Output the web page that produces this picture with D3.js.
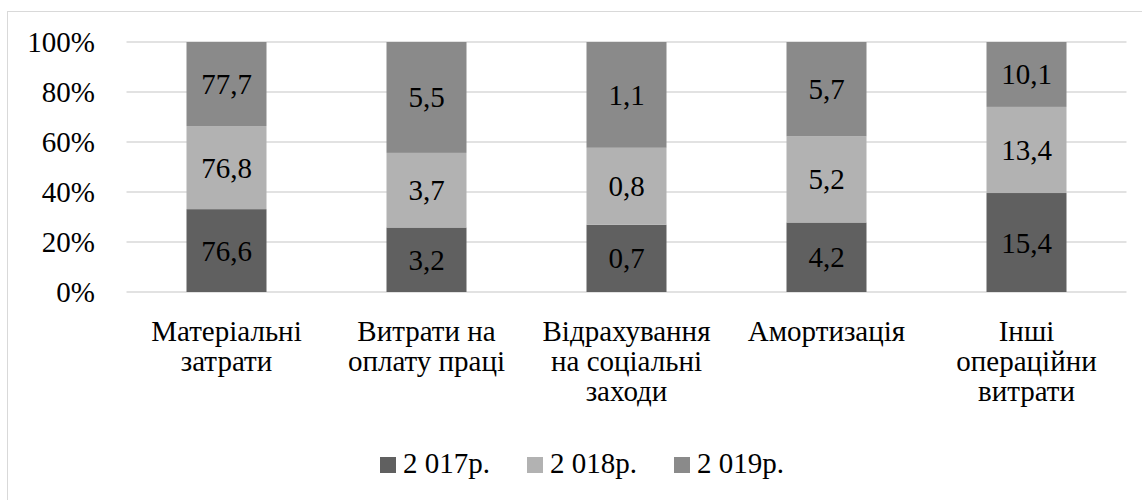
<!DOCTYPE html>
<html><head><meta charset="utf-8">
<script src="https://cdn.jsdelivr.net/npm/d3@7"></script>
<style>
html,body{margin:0;padding:0;background:#fff;}
svg text, svg tspan{font-family:"Liberation Serif" !important;}
</style>
</head>
<body>
<svg id="c" width="1142" height="500"></svg>
<script>
const categories = ["Матеріальні\nзатрати", "Витрати на\nоплату праці", "Відрахування\nна соціальні\nзаходи", "Амортизація", "Інші\nопераційни\nвитрати"];
const seriesNames = ["2 017р.", "2 018р.", "2 019р."];
const s2017 = [76.6, 3.2, 0.7, 4.2, 15.4];
const s2018 = [76.8, 3.7, 0.8, 5.2, 13.4];
const s2019 = [77.7, 5.5, 1.1, 5.7, 10.1];
const yTicks = [0, 0.2, 0.4, 0.6, 0.8, 1.0];
const colors = ["#606060", "#b2b2b2", "#8a8a8a"];

const FS = 29;
const svg = d3.select("#c");
function serif(sel) {
  return sel.attr("font-family", "Liberation Serif").style("font-family", '"Liberation Serif"');
}
svg.append("rect").attr("x", 7.5).attr("y", 11.5).attr("width", 1140).attr("height", 500)
  .attr("fill", "#fff").attr("stroke", "#d9d9d9").attr("stroke-width", 1);

const x = d3.scaleBand().domain(categories).range([126.5, 1126.5]).paddingInner(0.6).paddingOuter(0.3);
const y = d3.scaleLinear().domain([0, 1]).range([292, 42]);

const series = [s2017, s2018, s2019];
const table = categories.map((c, i) => {
  const o = {cat: c};
  seriesNames.forEach((n, j) => o[n] = series[j][i]);
  return o;
});
const stacked = d3.stack().keys(seriesNames).offset(d3.stackOffsetExpand)(table);

// gridlines
svg.append("g").selectAll("line").data(yTicks).join("line")
  .attr("x1", 126.5).attr("x2", 1126.5)
  .attr("y1", d => y(d)).attr("y2", d => y(d))
  .attr("stroke", "#d9d9d9").attr("stroke-width", 1.5);

// y axis labels
serif(svg.append("g").selectAll("text").data(yTicks).join("text")
  .attr("x", 95).attr("y", d => y(d) + 10)
  .attr("text-anchor", "end").attr("fill", "#000").attr("font-size", FS))
  .text(d3.format(".0%"));

// bars
const groups = svg.append("g").selectAll("g").data(stacked).join("g").attr("fill", (d, i) => colors[i]);
groups.selectAll("rect").data(d => d).join("rect")
  .attr("x", d => x(d.data.cat))
  .attr("width", x.bandwidth())
  .attr("y", d => y(d[1]))
  .attr("height", d => y(d[0]) - y(d[1]));

// data labels
const fmt = v => String(v).replace(".", ",");
stacked.forEach((s) => {
  serif(svg.append("g").selectAll("text").data(s).join("text")
    .attr("x", d => x(d.data.cat) + x.bandwidth() / 2)
    .attr("y", d => (y(d[0]) + y(d[1])) / 2 + 10)
    .attr("text-anchor", "middle").attr("fill", "#000").attr("font-size", FS))
    .text(d => fmt(d.data[s.key]));
});

// category labels
const xa = serif(svg.append("g").selectAll("text").data(categories).join("text")
  .attr("x", d => x(d) + x.bandwidth() / 2)
  .attr("y", 341)
  .attr("text-anchor", "middle").attr("fill", "#000").attr("font-size", FS));
xa.each(function(d) {
  const t = d3.select(this);
  d.split("\n").forEach((ln, i) => {
    t.append("tspan").attr("x", x(d) + x.bandwidth() / 2).attr("y", 341 + i * 30).text(ln);
  });
});

// legend
const legX = [380, 527, 674];
const leg = svg.append("g").selectAll("g").data(seriesNames).join("g")
  .attr("transform", (d, i) => `translate(${legX[i]},0)`);
leg.append("rect").attr("x", 0).attr("y", 457).attr("width", 16).attr("height", 16).attr("fill", (d, i) => colors[i]);
serif(leg.append("text").attr("x", 23).attr("y", 473).attr("fill", "#000").attr("font-size", FS)).text(d => d);
</script>
</body></html>
